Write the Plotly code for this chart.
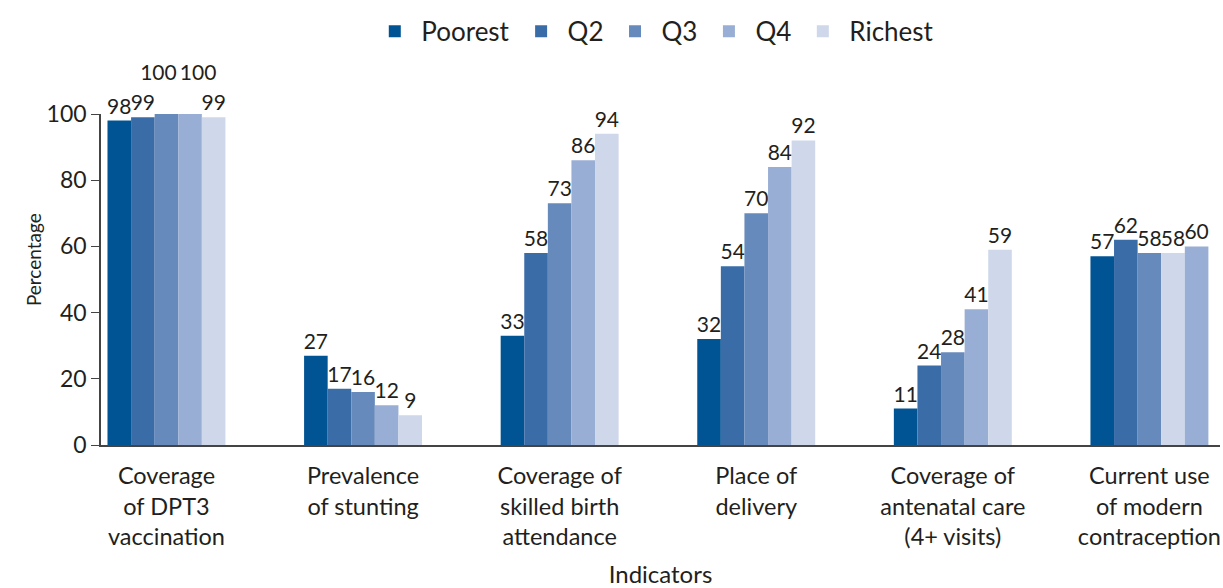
import plotly.graph_objects as go

# data
indicators = [
    "Coverage<br>of DPT3<br>vaccination",
    "Prevalence<br>of stunting",
    "Coverage of<br>skilled birth<br>attendance",
    "Place of<br>delivery",
    "Coverage of<br>antenatal care<br>(4+ visits)",
    "Current use<br>of modern<br>contraception",
]
quintiles = ["Poorest", "Q2", "Q3", "Q4", "Richest"]
poorest = [98, 27, 33, 32, 11, 57]
q2 = [99, 17, 58, 54, 24, 62]
q3 = [100, 16, 73, 70, 28, 58]
q4 = [100, 12, 86, 84, 41, 58]
richest = [99, 9, 94, 92, 59, 60]

colors = ["#005494", "#3a6ca8", "#678abc", "#98aed4", "#cfd8ea"]
series = [poorest, q2, q3, q4, richest]

text_color = "#231f20"
font_family = "Lato, 'Open Sans', sans-serif"
nb = "\u00a0" * 3


def make_label(name, v):
    # the two 100 labels are lifted a line and pushed apart in the source
    if v < 100:
        return str(v)
    if name == "Q3":
        return f"{v}{nb}<br> "
    if name == "Q4":
        return f"{nb}{v}<br> "
    return f"{v}<br> "


fig = go.Figure()
for name, vals, col in zip(quintiles, series, colors):
    bar_colors = [col] * len(vals)
    # in the source the last group has Q4 and Richest colours swapped
    if name == "Q4":
        bar_colors[-1] = colors[4]
    if name == "Richest":
        bar_colors[-1] = colors[3]
    fig.add_trace(go.Bar(
        name=name,
        x=indicators,
        y=vals,
        marker=dict(color=bar_colors, line=dict(width=0)),
        text=[make_label(name, v) for v in vals],
        textposition="outside",
        constraintext="none",
        cliponaxis=False,
        textfont=dict(size=21, color=text_color, family=font_family),
    ))

fig.update_layout(
    width=1223,
    height=588,
    barmode="group",
    bargap=0.40,
    bargroupgap=0,
    plot_bgcolor="white",
    paper_bgcolor="white",
    font=dict(family=font_family, size=22, color=text_color),
    margin=dict(l=101, r=3, t=114, b=143, autoexpand=False),
    legend=dict(
        orientation="h",
        x=0.494, xanchor="center",
        y=1.25, yanchor="middle",
        font=dict(size=26, color=text_color),
        itemwidth=43,
        traceorder="normal",
    ),
    uniformtext=dict(minsize=21, mode="show"),
    annotations=[dict(
        text="Percentage", textangle=-90,
        xref="paper", yref="paper", x=-0.0724, y=0.56,
        showarrow=False, font=dict(size=19, color=text_color),
    )],
)

fig.update_xaxes(
    range=[-0.333, 5.359],
    automargin=False,
    showline=True, linecolor="#444444", linewidth=2,
    ticks="", showgrid=False,
    ticklabelstandoff=9,
    tickfont=dict(size=23.5, color=text_color),
    title=dict(text="Indicators", font=dict(size=24, color=text_color), standoff=22),
)
fig.update_yaxes(
    range=[0, 100],
    automargin=False,
    tickvals=[0, 20, 40, 60, 80, 100],
    showline=True, linecolor="#444444", linewidth=1.5,
    ticks="outside", ticklen=8, tickcolor="#444444",
    showgrid=False, zeroline=False,
    tickfont=dict(size=23, color=text_color),
)

# drop the default body margin so the figure fills the window
fig.write_html(
    "out.html",
    config={"displayModeBar": False},
    post_script="document.body.style.margin='0';",
)
